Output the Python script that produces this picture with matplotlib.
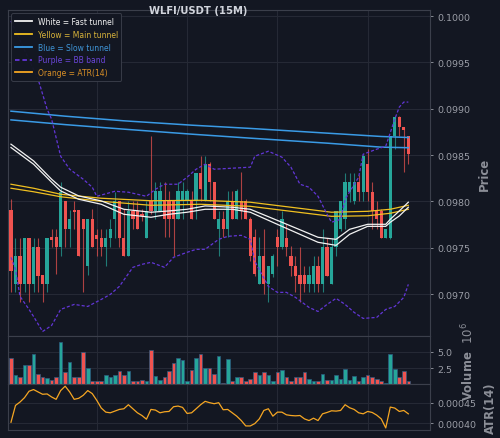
import numpy as np
import matplotlib
matplotlib.use("Agg")
import matplotlib.pyplot as plt
from matplotlib.lines import Line2D

# ---------------- data ----------------
title = "WLFI/USDT (15M)"

opens = [0.097905, 0.097106, 0.097408, 0.097106, 0.097603, 0.097106, 0.097506, 0.097203, 0.097106, 0.097614,
         0.097614, 0.097506, 0.098002, 0.097700, 0.097905, 0.097905, 0.097808, 0.097300, 0.097808, 0.097635,
         0.097603, 0.097506, 0.097603, 0.097808, 0.098002, 0.097603, 0.097408, 0.097894, 0.097894, 0.097862,
         0.097603, 0.098002, 0.097894, 0.097894, 0.098002, 0.098002, 0.098002, 0.097808, 0.098002, 0.098002,
         0.098002, 0.098002, 0.098305, 0.098002, 0.098402, 0.098208, 0.097700, 0.097808, 0.097700, 0.098002,
         0.097808, 0.098002, 0.098002, 0.097808, 0.097614, 0.097106, 0.097408, 0.097106, 0.097214, 0.097614,
         0.097506, 0.097603, 0.097408, 0.097300, 0.097203, 0.097203, 0.097106, 0.097106, 0.097300, 0.097106,
         0.097506, 0.097106, 0.097506, 0.097700, 0.097808, 0.098100, 0.098002, 0.098208, 0.098100, 0.098402,
         0.098100, 0.097894, 0.097894, 0.097603, 0.097603, 0.098704, 0.098910, 0.098802, 0.098704]
highs = [0.098024, 0.097603, 0.097603, 0.097603, 0.097603, 0.097603, 0.097603, 0.097203, 0.097603, 0.097700,
         0.097700, 0.098208, 0.098002, 0.097905, 0.098002, 0.097905, 0.097808, 0.097808, 0.097916, 0.097700,
         0.097700, 0.097700, 0.097808, 0.098100, 0.098002, 0.097916, 0.098002, 0.098002, 0.098002, 0.097916,
         0.098002, 0.098704, 0.098208, 0.098208, 0.098208, 0.098110, 0.098002, 0.098208, 0.098208, 0.098132,
         0.098110, 0.098305, 0.098488, 0.098488, 0.098424, 0.098208, 0.097894, 0.097894, 0.098110, 0.098110,
         0.098132, 0.098316, 0.098024, 0.097830, 0.097700, 0.097614, 0.097700, 0.097300, 0.097430, 0.097700,
         0.097894, 0.097754, 0.097516, 0.097408, 0.097506, 0.097300, 0.097300, 0.097408, 0.097408, 0.097700,
         0.097603, 0.097603, 0.097894, 0.098002, 0.098305, 0.098305, 0.098305, 0.098283, 0.098499, 0.098564,
         0.098208, 0.098002, 0.097916, 0.097700, 0.098704, 0.098910, 0.098920, 0.098802, 0.098704]
lows = [0.097020, 0.097020, 0.096912, 0.097020, 0.096912, 0.097020, 0.097020, 0.096912, 0.097020, 0.097506,
        0.097214, 0.097408, 0.097506, 0.097506, 0.097700, 0.097408, 0.097020, 0.097203, 0.097506, 0.097408,
        0.097408, 0.097300, 0.097506, 0.097603, 0.097506, 0.097408, 0.097408, 0.097700, 0.097700, 0.097786,
        0.097603, 0.097862, 0.097808, 0.097894, 0.097614, 0.097614, 0.097408, 0.097808, 0.097808, 0.097970,
        0.097808, 0.097808, 0.098002, 0.098002, 0.098002, 0.097808, 0.097408, 0.097614, 0.097614, 0.097808,
        0.097808, 0.097808, 0.097808, 0.097354, 0.097192, 0.097106, 0.096998, 0.096912, 0.097182, 0.097300,
        0.097484, 0.097408, 0.097192, 0.097020, 0.096912, 0.097020, 0.097020, 0.097020, 0.097020, 0.097020,
        0.097192, 0.097106, 0.097408, 0.097678, 0.097700, 0.097992, 0.097970, 0.098002, 0.098002, 0.098002,
        0.097700, 0.097700, 0.097603, 0.097603, 0.097592, 0.098564, 0.098704, 0.098316, 0.098402]
closes = [0.097246, 0.097408, 0.097106, 0.097603, 0.097106, 0.097506, 0.097192, 0.097106, 0.097603, 0.097581,
          0.097506, 0.098100, 0.097700, 0.097808, 0.097884, 0.097408, 0.097700, 0.097808, 0.097506, 0.097592,
          0.097506, 0.097603, 0.097700, 0.098002, 0.097603, 0.097408, 0.097894, 0.097808, 0.097700, 0.097840,
          0.097894, 0.097894, 0.098110, 0.098110, 0.097808, 0.097808, 0.097808, 0.098110, 0.098110, 0.098110,
          0.097808, 0.098305, 0.098132, 0.098402, 0.098208, 0.097808, 0.097808, 0.097700, 0.098002, 0.097808,
          0.098110, 0.097894, 0.097808, 0.097408, 0.097214, 0.097408, 0.097106, 0.097300, 0.097408, 0.097506,
          0.097808, 0.097506, 0.097300, 0.097192, 0.097106, 0.097106, 0.097203, 0.097300, 0.097106, 0.097506,
          0.097192, 0.097506, 0.097894, 0.098002, 0.098208, 0.098208, 0.098208, 0.098100, 0.098488, 0.098100,
          0.097894, 0.097808, 0.097603, 0.097700, 0.098704, 0.098910, 0.098802, 0.098769, 0.098510]

volume_m = [4.0, 1.4, 1.1, 3.0, 2.9, 4.7, 1.6, 1.1, 1.0, 0.7,
            1.2, 6.5, 1.9, 3.4, 1.1, 1.1, 5.0, 2.5, 0.6, 0.5,
            0.6, 1.5, 1.2, 1.5, 2.0, 1.4, 2.1, 0.6, 0.6, 0.7,
            0.5, 5.3, 1.3, 0.7, 1.1, 2.0, 3.2, 4.0, 3.8, 0.5,
            2.2, 4.1, 4.7, 2.5, 2.5, 1.6, 4.3, 0.3, 3.9, 0.5,
            1.1, 1.1, 0.5, 0.8, 1.9, 1.4, 1.9, 1.5, 0.5, 1.9,
            2.2, 1.1, 0.5, 1.2, 1.2, 1.9, 0.9, 0.5, 0.6, 1.6,
            0.7, 0.7, 1.5, 0.9, 2.4, 0.7, 1.3, 0.5, 1.2, 1.5,
            1.2, 0.8, 0.6, 0.2, 4.7, 2.4, 1.1, 2.0, 0.5]

atr14 = [0.0004024, 0.0004434, 0.0004516, 0.0004623, 0.0004779, 0.0004820, 0.0004762, 0.0004705, 0.0004713, 0.0004639,
         0.0004582, 0.0004795, 0.0004902, 0.0004762, 0.0004582, 0.0004607, 0.0004680, 0.0004795, 0.0004721, 0.0004557,
         0.0004369, 0.0004270, 0.0004254, 0.0004295, 0.0004336, 0.0004352, 0.0004451, 0.0004352, 0.0004254, 0.0004188,
         0.0004098, 0.0004336, 0.0004320, 0.0004254, 0.0004279, 0.0004287, 0.0004402, 0.0004418, 0.0004385, 0.0004238,
         0.0004254, 0.0004352, 0.0004451, 0.0004533, 0.0004500, 0.0004475, 0.0004500, 0.0004328, 0.0004336, 0.0004254,
         0.0004172, 0.0004065, 0.0003934, 0.0003934, 0.0003992, 0.0004106, 0.0004311, 0.0004352, 0.0004172, 0.0004270,
         0.0004270, 0.0004205, 0.0004188, 0.0004180, 0.0004188, 0.0004106, 0.0004065, 0.0004123, 0.0004065, 0.0004229,
         0.0004262, 0.0004303, 0.0004295, 0.0004311, 0.0004451, 0.0004377, 0.0004336, 0.0004254, 0.0004229, 0.0004287,
         0.0004262, 0.0004197, 0.0004106, 0.0003885, 0.0004393, 0.0004369, 0.0004287, 0.0004311, 0.0004229]

# tunnels (read at candle indices)
fast_idx = [0, 5, 9, 11, 15, 20, 25, 31, 35, 39, 43, 49, 53, 60, 68, 72, 75, 79, 83, 84, 86, 88]
fast_a = [0.098618, 0.098438, 0.098240, 0.098154, 0.098060, 0.098006, 0.097916, 0.097884, 0.097898, 0.097916, 0.097952,
          0.097938, 0.097916, 0.097776, 0.097614, 0.097592, 0.097700, 0.097754, 0.097754, 0.097808, 0.097898, 0.097992]
fast_b = [0.098582, 0.098402, 0.098208, 0.098114, 0.098024, 0.097970, 0.097862, 0.097830, 0.097862, 0.097884, 0.097916,
          0.097916, 0.097884, 0.097732, 0.097560, 0.097527, 0.097646, 0.097732, 0.097732, 0.097776, 0.097844, 0.097938]

main_idx = [0, 5, 11, 20, 31, 42, 53, 62, 71, 79, 84, 88]
main_a = [0.098186, 0.098143, 0.098078, 0.098035, 0.098008, 0.098013, 0.097992, 0.097938, 0.097884, 0.097894, 0.097916, 0.097959]
main_b = [0.098143, 0.098105, 0.098051, 0.098002, 0.097959, 0.097970, 0.097948, 0.097894, 0.097840, 0.097846, 0.097873, 0.097916]

slow_idx = [0, 12, 25, 40, 53, 70, 82, 88]
slow_a = [0.098974, 0.098920, 0.098870, 0.098823, 0.098788, 0.098737, 0.098701, 0.098690]
slow_b = [0.098880, 0.098829, 0.098780, 0.098726, 0.098683, 0.098629, 0.098586, 0.098580]

bbu_idx = [0, 6, 8, 9, 11, 13, 16, 18, 19, 23, 26, 30, 32, 34, 37, 39, 41, 43, 45, 49,
           53, 54, 57, 60, 62, 64, 66, 68, 70, 71, 73, 74, 77, 78, 81, 83, 85, 86, 87, 88]
bb_upper = [0.099946, 0.099320, 0.098996, 0.098888, 0.098488, 0.098348, 0.098240, 0.098154, 0.098056, 0.098110,
            0.098100, 0.098056, 0.098132, 0.098186, 0.098186, 0.098262, 0.098348, 0.098402, 0.098348, 0.098359,
            0.098370, 0.098488, 0.098542, 0.098478, 0.098370, 0.098186, 0.098154, 0.098056, 0.097862, 0.097776,
            0.097808, 0.098024, 0.098262, 0.098510, 0.098564, 0.098596, 0.098888, 0.099018, 0.099072, 0.099072]
bbl_idx = [0, 1, 2, 4, 5, 7, 9, 11, 14, 17, 20, 22, 24, 27, 29, 31, 34, 36, 39, 41, 43,
           46, 48, 51, 53, 54, 57, 59, 61, 63, 66, 68, 70, 72, 74, 76, 78, 81, 83, 85, 87, 88]
bb_lower = [0.097398, 0.097268, 0.096976, 0.096836, 0.096760, 0.096598, 0.096663, 0.096836, 0.096890, 0.096868,
            0.096944, 0.096998, 0.097084, 0.097290, 0.097322, 0.097344, 0.097290, 0.097398, 0.097452, 0.097484,
            0.097484, 0.097592, 0.097624, 0.097635, 0.097592, 0.097354, 0.097084, 0.097020, 0.097020, 0.096966,
            0.096858, 0.096814, 0.096890, 0.096955, 0.096890, 0.096804, 0.096739, 0.096750, 0.096836, 0.096868,
            0.096966, 0.097106]

price_ticks = [0.0970, 0.0975, 0.0980, 0.0985, 0.0990, 0.0995, 0.1000]
volume_ticks = [2.5, 5.0]
atr_ticks = [0.00040, 0.00045]
grid_x = [19, 39, 59, 79]

legend_labels = ["White = Fast tunnel", "Yellow = Main tunnel", "Blue = Slow tunnel",
                 "Purple = BB band", "Orange = ATR(14)"]

# ---------------- style ----------------
BG = "#131722"
GRID = "#252935"
SPINE = "#3b3f4b"
TICK = "#9a9da6"
LABEL = "#8c8f98"
UP = "#26a69a"
DN = "#ef5350"
WHITE = "#f2f2f2"
YELLOW = "#f0c020"
BLUE = "#3a9be6"
PURPLE = "#6236d6"
ORANGE = "#f5a623"

fig = plt.figure(figsize=(5.0, 4.39), dpi=100, facecolor=BG)
L, W = 0.016, 0.844
ax = fig.add_axes([L, 0.23121, W, 0.74373])
axv = fig.add_axes([L, 0.12187, W, 0.10934], sharex=ax)
axa = fig.add_axes([L, 0.01822, W, 0.10365], sharex=ax)

o = np.array(opens); h = np.array(highs); lo = np.array(lows); c = np.array(closes)
x = np.arange(len(o))
up = c >= o
cols = np.where(up, UP, DN)

for a in (ax, axv, axa):
    a.set_facecolor(BG)
    for s in a.spines.values():
        s.set_color(SPINE)
        s.set_linewidth(0.8)
    a.yaxis.tick_right()
    a.yaxis.set_label_position("right")
    a.tick_params(axis="y", colors=TICK, labelsize=6.8, length=2.5, width=0.6, pad=3)
    a.tick_params(axis="x", length=0, labelbottom=False)
    a.set_xticks(grid_x)
    a.grid(True, color=GRID, linewidth=0.8)
    a.set_axisbelow(True)

# candles
ax.vlines(x, lo, h, colors=cols, linewidth=0.8, alpha=0.7, zorder=3)
body = np.maximum(np.abs(c - o), 2.5e-6)
ax.bar(x, body, bottom=np.minimum(o, c), width=0.72, color=cols, linewidth=0, zorder=4)

# tunnels and bands
ax.plot(slow_idx, slow_a, color=BLUE, lw=1.1, zorder=5)
ax.plot(slow_idx, slow_b, color=BLUE, lw=1.1, zorder=5)
ax.plot(main_idx, main_a, color=YELLOW, lw=0.9, zorder=5)
ax.plot(main_idx, main_b, color=YELLOW, lw=0.9, zorder=5)
ax.plot(fast_idx, fast_a, color=WHITE, lw=0.9, zorder=6)
ax.plot(fast_idx, fast_b, color=WHITE, lw=0.9, zorder=6)
ax.plot(bbu_idx, bb_upper, color=PURPLE, lw=0.9, ls=(0, (2.5, 1.6)), zorder=5)
ax.plot(bbl_idx, bb_lower, color=PURPLE, lw=0.9, ls=(0, (2.5, 1.6)), zorder=5)

ax.set_xlim(-0.66, 92.8)
ax.set_ylim(0.096544, 0.100065)
ax.set_yticks(price_ticks)
ax.set_yticklabels([f"{t:.4f}" for t in price_ticks])
ax.set_ylabel("Price", fontsize=8.4, fontweight="bold", color=LABEL, labelpad=5)

handles = [Line2D([], [], color=WHITE, lw=1.3),
           Line2D([], [], color=YELLOW, lw=1.3),
           Line2D([], [], color=BLUE, lw=1.3),
           Line2D([], [], color=PURPLE, lw=1.3, ls=(0, (2.5, 1.6))),
           Line2D([], [], color=ORANGE, lw=1.3)]
leg = ax.legend(handles, legend_labels, loc="upper left", fontsize=5.5,
                labelcolor=[WHITE, "#d9b43a", "#3f95d8", "#6a45d8", "#d98f26"],
                facecolor=BG, edgecolor="#3a3e4a", framealpha=0.95, fancybox=True,
                handlelength=2.2, labelspacing=0.5, borderaxespad=0.45, borderpad=0.45)
leg.get_frame().set_linewidth(0.7)

# volume
axv.bar(x, volume_m, width=0.8, color=cols, edgecolor="#2d5b80", linewidth=0.5, zorder=3)
axv.set_ylim(0, 7.3)
axv.set_yticks(volume_ticks)
axv.set_yticklabels([f"{t:.1f}" for t in volume_ticks])
axv.set_ylabel("Volume  $10^{6}$", fontsize=8.4, fontweight="bold", color=LABEL, labelpad=5)

# ATR
axa.plot(x, atr14, color=ORANGE, lw=0.9, zorder=3)
axa.set_ylim(0.0003835, 0.0004943)
axa.set_yticks(atr_ticks)
axa.set_yticklabels([f"{t:.5f}" for t in atr_ticks])
axa.set_ylabel("ATR(14)", fontsize=8.4, fontweight="bold", color=LABEL, labelpad=5)

fig.text(0.396, 0.975, title, ha="center", va="center", fontsize=7.2,
         fontweight="bold", color="#d1d4dc")

fig.savefig("out.png", dpi=100, facecolor=BG)
